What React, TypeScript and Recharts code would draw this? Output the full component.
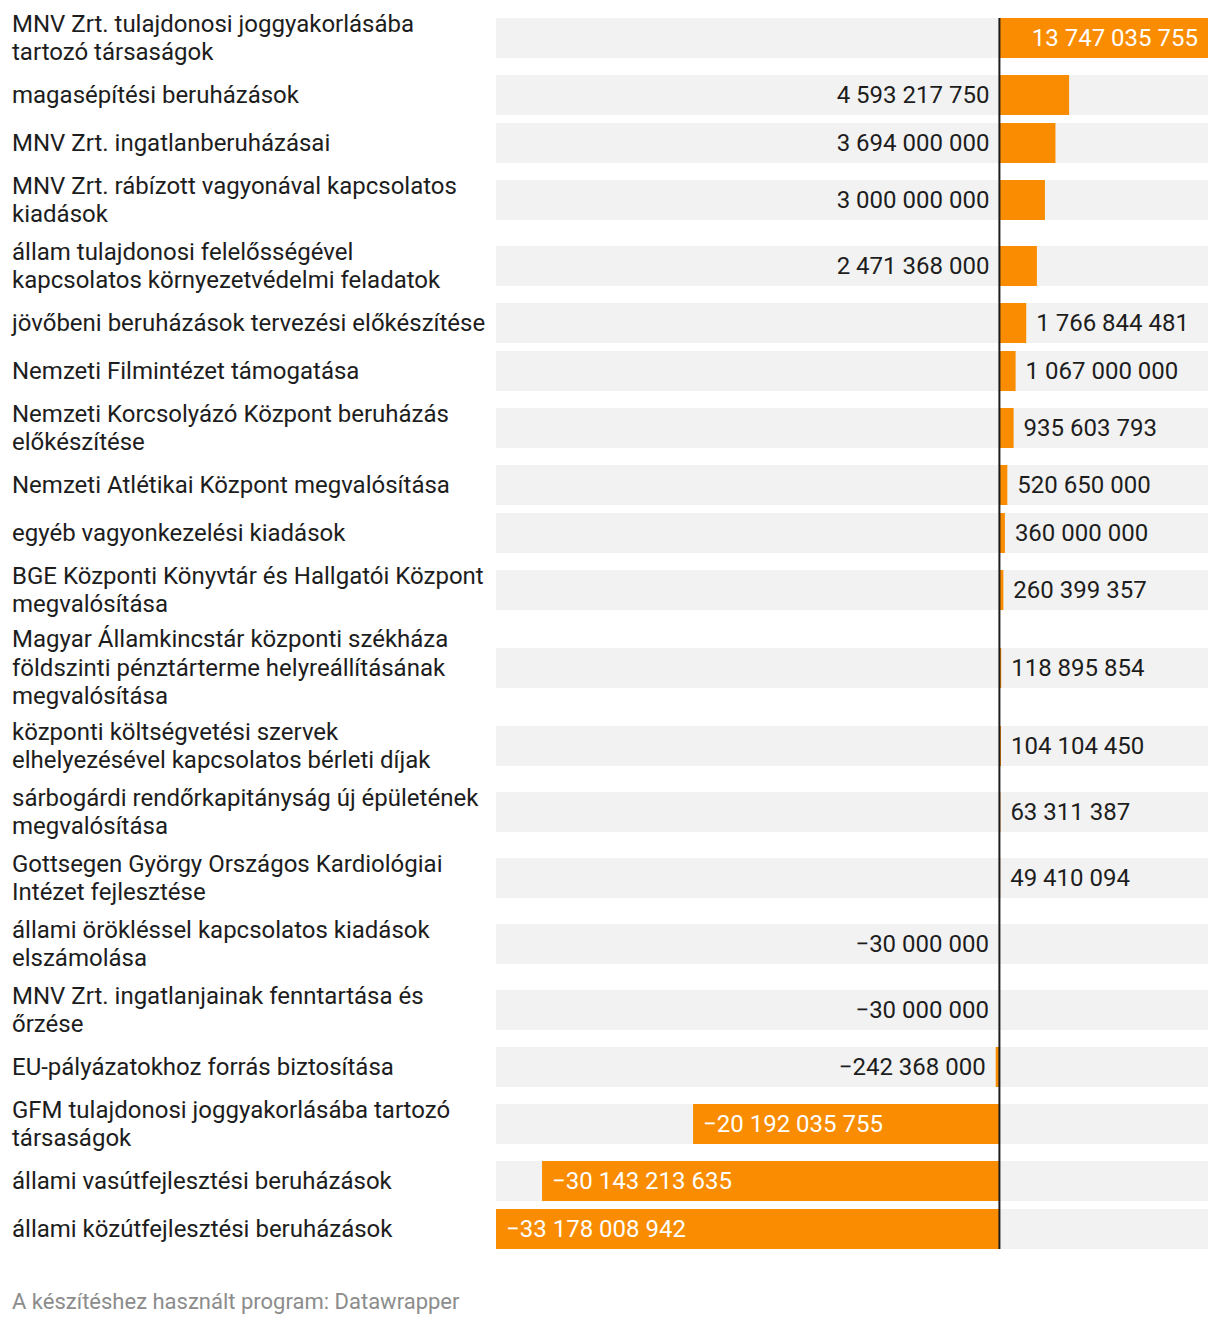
import React from 'react';
import { BarChart, Bar, XAxis, YAxis, ReferenceLine, LabelList } from 'recharts';

const categories = [
  'MNV Zrt. tulajdonosi joggyakorlásába\ntartozó társaságok',
  'magasépítési beruházások',
  'MNV Zrt. ingatlanberuházásai',
  'MNV Zrt. rábízott vagyonával kapcsolatos\nkiadások',
  'állam tulajdonosi felelősségével\nkapcsolatos környezetvédelmi feladatok',
  'jövőbeni beruházások tervezési előkészítése',
  'Nemzeti Filmintézet támogatása',
  'Nemzeti Korcsolyázó Központ beruházás\nelőkészítése',
  'Nemzeti Atlétikai Központ megvalósítása',
  'egyéb vagyonkezelési kiadások',
  'BGE Központi Könyvtár és Hallgatói Központ\nmegvalósítása',
  'Magyar Államkincstár központi székháza\nföldszinti pénztárterme helyreállításának\nmegvalósítása',
  'központi költségvetési szervek\nelhelyezésével kapcsolatos bérleti díjak',
  'sárbogárdi rendőrkapitányság új épületének\nmegvalósítása',
  'Gottsegen György Országos Kardiológiai\nIntézet fejlesztése',
  'állami örökléssel kapcsolatos kiadások\nelszámolása',
  'MNV Zrt. ingatlanjainak fenntartása és\nőrzése',
  'EU-pályázatokhoz forrás biztosítása',
  'GFM tulajdonosi joggyakorlásába tartozó\ntársaságok',
  'állami vasútfejlesztési beruházások',
  'állami közútfejlesztési beruházások',
];

const values = [
  13747035755, 4593217750, 3694000000, 3000000000, 2471368000, 1766844481,
  1067000000, 935603793, 520650000, 360000000, 260399357, 118895854,
  104104450, 63311387, 49410094, -30000000, -30000000, -242368000,
  -20192035755, -30143213635, -33178008942,
];

const footer = 'A készítéshez használt program: Datawrapper';

const CHART_W = 712;
const BAR_H = 40;
const ROW_H = [0, 48, 66, 90];
const ORANGE = '#f98c00';
const TEXT = '#1d1d1d';
const VALUE_FONT = 24;
const FONT = 'Roboto, "Noto Sans", sans-serif';

const domain: [number, number] = [Math.min(...values), Math.max(...values)];

const fmt = (v: number) => {
  const s = Math.round(Math.abs(v)).toString().replace(/\B(?=(\d{3})+(?!\d))/g, ' ');
  return (v < 0 ? '\u2212' : '') + s;
};

// rough Roboto width of a formatted number
const textWidth = (s: string) => {
  let w = 0;
  for (const ch of s) w += ch === ' ' ? 0.248 : 0.562;
  return w * VALUE_FONT;
};

const ValueLabel = (props: any) => {
  const vb = props.viewBox ?? props;
  const x = Number(vb.x ?? props.x);
  const y = Number(vb.y ?? props.y);
  const w = Number(vb.width ?? props.width);
  const h = Number(vb.height ?? props.height);
  const v = Number(props.value);
  const left = Math.min(x, x + w);
  const right = Math.max(x, x + w);
  const barW = right - left;
  const txt = fmt(v);
  const tw = textWidth(txt);
  const cy = y + h / 2;
  let tx = 0;
  let anchor: 'start' | 'end' = 'start';
  let fill = TEXT;
  if (barW >= tw + 20) {
    fill = '#fff';
    if (v >= 0) { tx = right - 10; anchor = 'end'; } else { tx = left + 10; anchor = 'start'; }
  } else if (v >= 0) {
    if (CHART_W - right >= tw + 20) { tx = right + 10; anchor = 'start'; }
    else { tx = left - 10; anchor = 'end'; }
  } else {
    tx = left - 10; anchor = 'end';
  }
  return (
    <text x={tx} y={cy} textAnchor={anchor} dominantBaseline="central" fill={fill}
      style={{ fontFamily: FONT, fontSize: VALUE_FONT }}>
      {txt}
    </text>
  );
};

const Row = ({ name, value, first, last }: { name: string; value: number; first: boolean; last: boolean }) => {
  const h = ROW_H[name.split('\n').length];
  const pad = (h - BAR_H) / 2;
  // zero line (drawn bottom -> top) runs from the first bar's top to the last bar's bottom
  const dash = first ? `${h - pad} ${h}` : last ? `0 ${pad} ${h}` : undefined;
  return (
    <div style={{ display: 'flex', height: h }}>
      <div style={{
        width: 484, paddingLeft: 4, display: 'flex', alignItems: 'center',
        whiteSpace: 'pre-line', fontSize: 24, lineHeight: '28.5px', color: TEXT,
      }}>
        {name}
      </div>
      <BarChart layout="vertical" width={CHART_W} height={h} data={[{ name, value }]}
        margin={{ top: 0, right: 0, bottom: 0, left: 0 }}>
        <XAxis type="number" domain={domain} allowDataOverflow hide />
        <YAxis type="category" dataKey="name" hide />
        <Bar dataKey="value" fill={ORANGE} barSize={BAR_H} background={{ fill: '#f2f2f2' }}
          isAnimationActive={false}>
          <LabelList dataKey="value" content={ValueLabel} />
        </Bar>
        <ReferenceLine x={0} stroke={TEXT} strokeWidth={2} strokeDasharray={dash} />
      </BarChart>
    </div>
  );
};

export default function App() {
  return (
    <div style={{ width: 1204, marginTop: -3, fontFamily: FONT }}>
      {categories.map((c, i) => (
        <Row key={i} name={c} value={values[i]} first={i === 0} last={i === categories.length - 1} />
      ))}
      <div style={{ marginTop: 36, paddingLeft: 4, fontSize: 22, lineHeight: '26px', color: '#8c8c8c' }}>
        {footer}
      </div>
    </div>
  );
}
